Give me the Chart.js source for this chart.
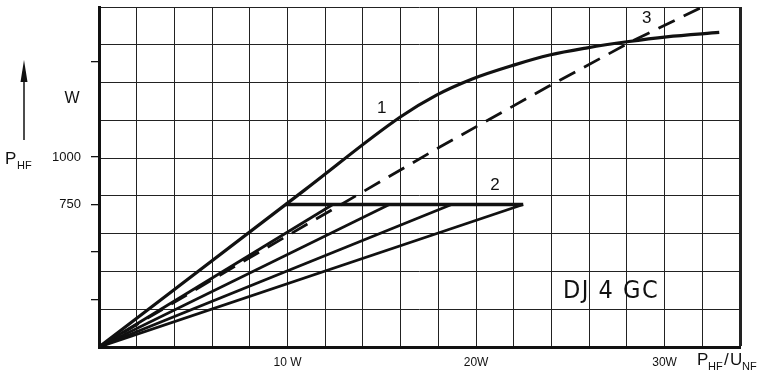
<!DOCTYPE html>
<html>
<head>
<meta charset="utf-8">
<script src="https://cdn.jsdelivr.net/npm/chart.js@4.4.1/dist/chart.umd.min.js"></script>
<style>
  html, body { margin: 0; padding: 0; background: #fff; }
  #wrap { width: 771px; height: 378px; }
</style>
</head>
<body>
<div id="wrap"><canvas id="chart" width="771" height="378"></canvas></div>
<script>
// values (x in W of P_HF/U_NF, y in W of P_HF)
const curve1X = [0, 10.9, 16.0, 17.9, 19.8, 22.0, 23.9, 25.9, 28.0, 30.1, 32.9]
const curve1Y = [0, 826, 1212, 1326, 1411, 1484, 1537, 1575, 1607, 1633, 1656]

const curve3X = [0, 7.5, 18.1, 23.8, 28.3, 32.0]
const curve3Y = [0, 442, 1054, 1370, 1611, 1790]

// family 2: straight lines from origin up to the 750 W plateau
const fanEndX = [12.4, 15.4, 18.7, 22.5]
const plateauX = [9.9, 22.5]
const plateauLevel = 750

const xTickLabels = { 10: '10 W', 20: '20W', 30: '30W' }
const yTickValues = [250, 500, 750, 1000, 1500]
const yTickLabels = ['', '', '750', '1000', '']

const toPoints = (xs, ys) => xs.map((x, i) => ({ x: x, y: ys[i] }))

const datasets = [
    {
        label: '1',
        data: toPoints(curve1X, curve1Y),
        borderColor: '#111',
        borderWidth: 3.2,
        cubicInterpolationMode: 'monotone'
    },
    {
        label: '3',
        data: toPoints(curve3X, curve3Y),
        borderColor: '#111',
        borderWidth: 2.8,
        borderDash: [18, 10]
    },
    {
        label: '2',
        data: toPoints(plateauX, plateauX.map(() => plateauLevel)),
        borderColor: '#111',
        borderWidth: 3.6
    }
]

fanEndX.forEach(x => {
    datasets.push({
        label: '2',
        data: [{ x: 0, y: 0 }, { x: x, y: plateauLevel }],
        borderColor: '#111',
        borderWidth: 2.8
    })
})

// extra texts round the plot
const drawTexts = {
    id: 'drawTexts',
    afterDraw(chart) {
        const c = chart.ctx
        const sx = chart.scales.x
        const sy = chart.scales.y
        c.save()
        c.fillStyle = '#111'
        c.strokeStyle = '#111'

        // arrow
        c.lineWidth = 1.5
        c.beginPath()
        c.moveTo(24, 140)
        c.lineTo(24, 80)
        c.stroke()
        c.beginPath()
        c.moveTo(24, 60)
        c.lineTo(27.5, 82)
        c.lineTo(20.5, 82)
        c.closePath()
        c.fill()

        c.textBaseline = 'alphabetic'
        c.textAlign = 'left'
        c.font = '17px "Liberation Sans", Arial, sans-serif'
        c.fillText('P', 5, 164)
        c.font = '11px "Liberation Sans", Arial, sans-serif'
        c.fillText('HF', 17, 169)

        c.font = '16px "Liberation Sans", Arial, sans-serif'
        c.textAlign = 'center'
        c.fillText('W', 72, 103)

        // x axis title
        c.textAlign = 'left'
        c.font = '17px "Liberation Sans", Arial, sans-serif'
        c.fillText('P', 697, 365)
        c.font = '11px "Liberation Sans", Arial, sans-serif'
        c.fillText('HF', 708, 370)
        c.font = '17px "Liberation Sans", Arial, sans-serif'
        c.fillText('/', 724, 365)
        c.fillText('U', 730, 365)
        c.font = '11px "Liberation Sans", Arial, sans-serif'
        c.fillText('NF', 742, 370)

        // curve numbers
        c.font = '17px "Liberation Sans", Arial, sans-serif'
        c.textAlign = 'center'
        c.textBaseline = 'middle'
        c.fillText('1', sx.getPixelForValue(15.0), sy.getPixelForValue(1258))
        c.fillText('2', sx.getPixelForValue(21.0), sy.getPixelForValue(853))
        c.fillText('3', sx.getPixelForValue(29.05), sy.getPixelForValue(1732))

        // type label
        c.font = '25px "DejaVu Sans Condensed", "Liberation Sans Narrow", sans-serif'
        c.letterSpacing = '1.5px'
        c.textAlign = 'left'
        c.fillText('DJ 4 GC', 563, 291)
        c.restore()
    }
}

const noPad = s => {
    s.paddingTop = 0
    s.paddingBottom = 0
    s.paddingLeft = 0
    s.paddingRight = 0
}

const chart = document.querySelector('#chart').getContext('2d')

new Chart(chart, {
    type: 'line',
    data: { datasets: datasets },
    options: {
        responsive: false,
        animation: false,
        layout: { padding: { top: 7, right: 31, left: 0, bottom: 0 } },
        elements: { point: { radius: 0 }, line: { tension: 0 } },
        plugins: { legend: { display: false }, tooltip: { enabled: false } },
        scales: {
            x: {
                type: 'linear',
                min: 0,
                max: 34,
                border: { display: true, width: 3, color: '#111' },
                grid: {
                    color: '#222',
                    lineWidth: ctx => (ctx.tick && ctx.tick.value === 34 ? 3 : 1),
                    drawTicks: false
                },
                ticks: {
                    stepSize: 2,
                    autoSkip: false,
                    maxRotation: 0,
                    padding: 8,
                    color: '#111',
                    font: { family: 'Liberation Sans', size: 12 },
                    callback: v => xTickLabels[v] || ''
                },
                afterFit: s => { s.height = 31; noPad(s) }
            },
            y: {
                type: 'linear',
                position: 'left',
                min: 0,
                max: 1790,
                border: { display: true, width: 3, color: '#111' },
                grid: { drawOnChartArea: false, drawTicks: true, tickLength: 8, color: '#111', lineWidth: 1.3 },
                afterBuildTicks: axis => { axis.ticks = yTickValues.map(v => ({ value: v })) },
                ticks: {
                    padding: 10,
                    color: '#111',
                    font: { family: 'Liberation Sans', size: 13 },
                    callback: v => yTickLabels[yTickValues.indexOf(v)] || ''
                },
                afterFit: s => { s.width = 99; noPad(s) }
            },
            yg: {
                type: 'linear',
                position: 'left',
                min: 0,
                max: 9,
                border: { display: false },
                grid: { color: '#222', lineWidth: 1, drawTicks: false },
                ticks: { display: false, stepSize: 1 },
                afterFit: s => { s.width = 0; noPad(s) }
            }
        }
    },
    plugins: [drawTexts]
})
</script>
</body>
</html>
